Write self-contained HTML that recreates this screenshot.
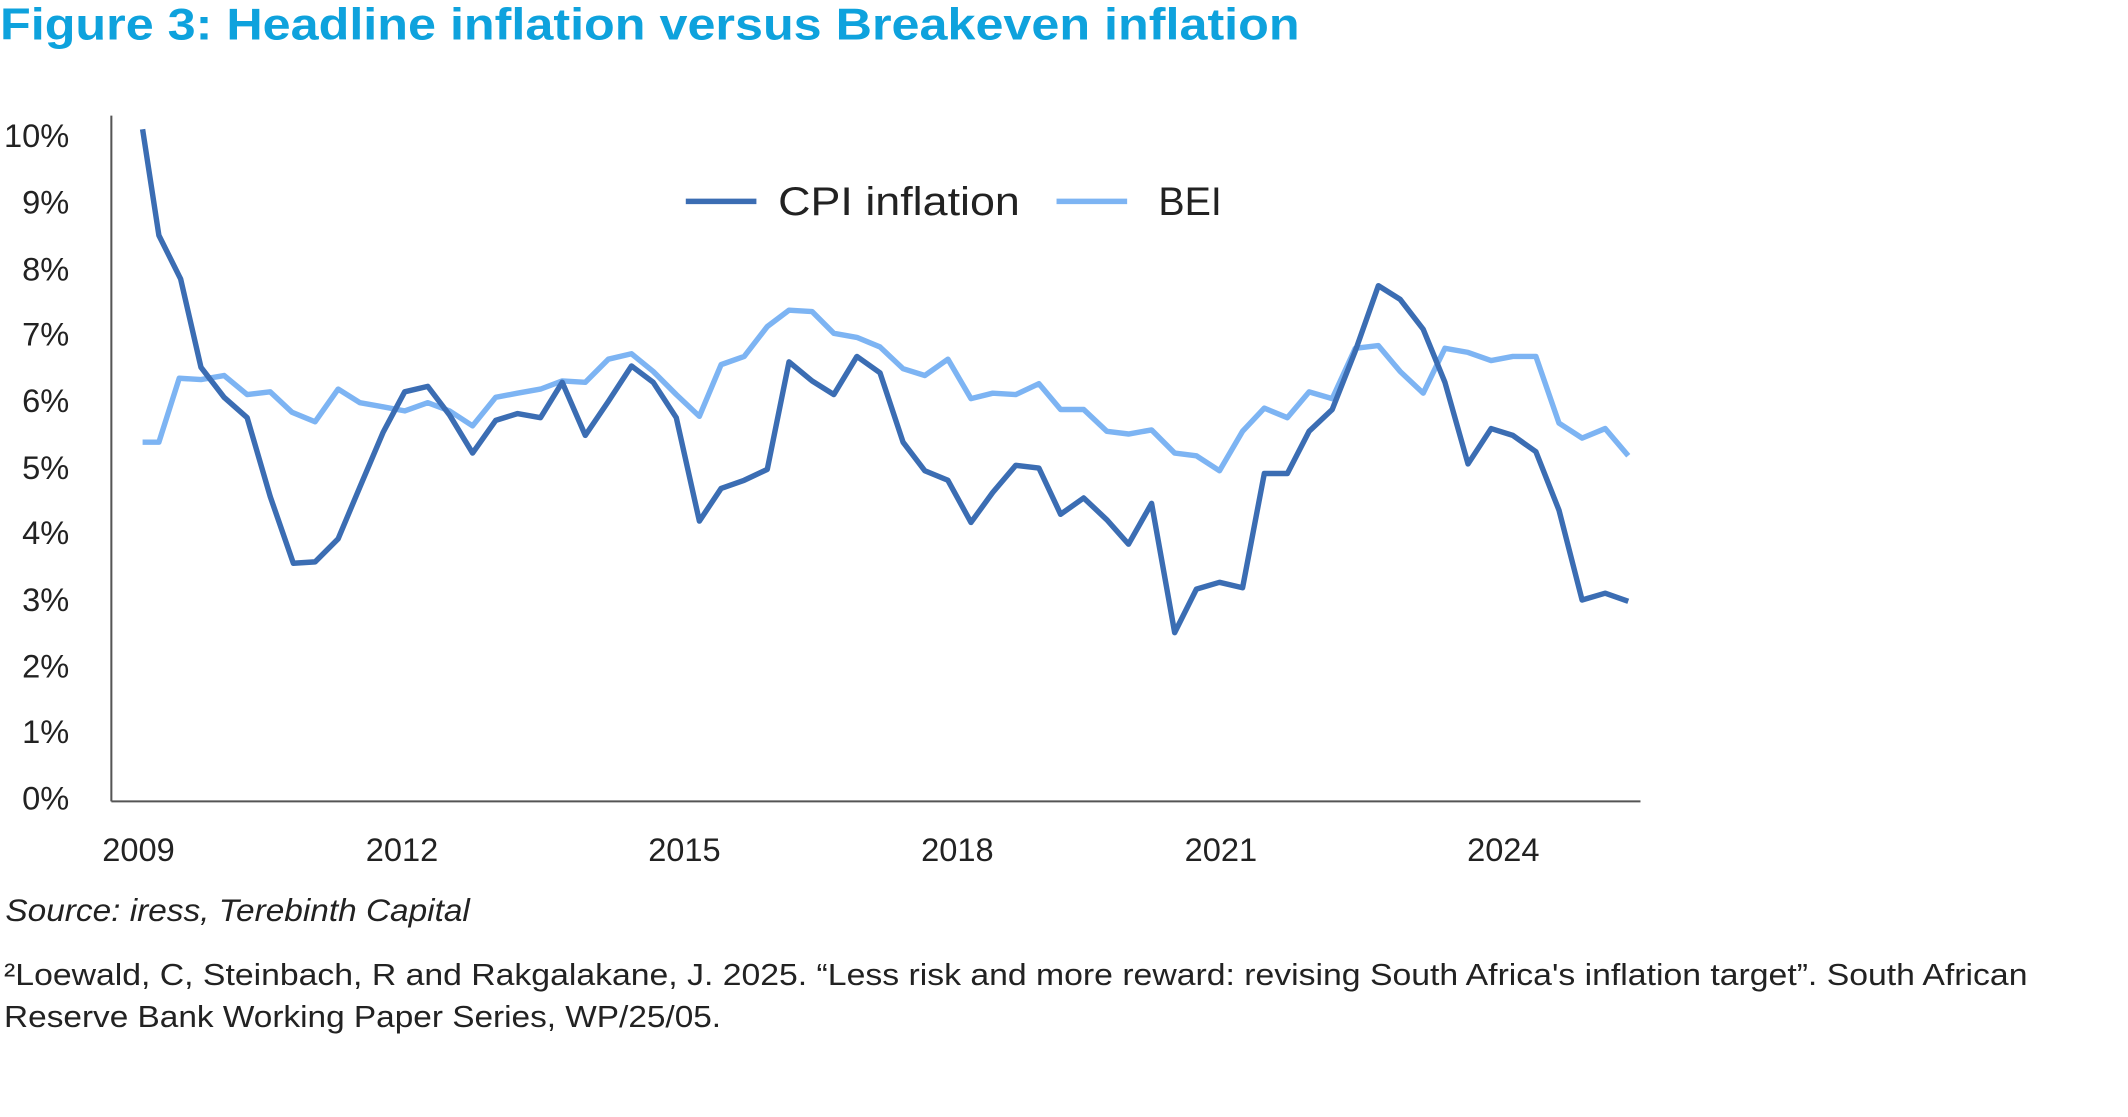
<!DOCTYPE html>
<html><head><meta charset="utf-8"><style>
html,body{margin:0;padding:0;background:#fff;}
svg{display:block;}
text{font-family:"Liberation Sans",sans-serif;}
</style></head><body>
<svg width="2128" height="1117" viewBox="0 0 1567 821" preserveAspectRatio="none" xmlns="http://www.w3.org/2000/svg">
<rect width="1567" height="821" fill="#fff"/>
<text x="0" y="29" font-size="33" font-weight="bold" fill="#0ea2dd" textLength="957" lengthAdjust="spacingAndGlyphs">Figure 3: Headline inflation versus Breakeven inflation</text>
<line x1="82" y1="85" x2="82" y2="589" stroke="#555" stroke-width="1.5"/>
<line x1="82" y1="589" x2="1208" y2="589" stroke="#555" stroke-width="1.5"/>
<g font-size="24" fill="#222" text-anchor="end">
<text x="51" y="108">10%</text><text x="51" y="157">9%</text><text x="51" y="206">8%</text><text x="51" y="254">7%</text><text x="51" y="303">6%</text><text x="51" y="352">5%</text><text x="51" y="400">4%</text><text x="51" y="449">3%</text><text x="51" y="498">2%</text><text x="51" y="546">1%</text><text x="51" y="595">0%</text>
</g>
<g font-size="24" fill="#222" text-anchor="middle">
<text x="102" y="633">2009</text><text x="296" y="633">2012</text><text x="504" y="633">2015</text><text x="705" y="633">2018</text><text x="899" y="633">2021</text><text x="1107" y="633">2024</text>
</g>
<line x1="505" y1="148" x2="557" y2="148" stroke="#3b6db3" stroke-width="4"/>
<text x="573" y="158" font-size="29" fill="#222" textLength="178" lengthAdjust="spacingAndGlyphs">CPI inflation</text>
<line x1="778" y1="148" x2="830" y2="148" stroke="#7db4f3" stroke-width="4"/>
<text x="853" y="158" font-size="29" fill="#222">BEI</text>
<polyline fill="none" stroke="#7db4f3" stroke-width="4" stroke-linejoin="round" points="105,325 117,325 132,278 148,279 165,276 182,290 199,288 215,303 232,310 249,286 265,296 282,299 298,302 315,296 331,302 348,313 365,292 381,289 398,286 414,280 431,281 448,264 465,260 481,273 498,290 515,306 531,268 548,262 565,240 581,228 598,229 614,245 631,248 648,255 665,271 681,276 698,264 715,293 731,289 748,290 765,282 781,301 798,301 815,317 831,319 848,316 865,333 881,335 898,346 915,317 931,300 948,307 964,288 981,293 998,256 1015,254 1031,273 1048,289 1064,256 1081,259 1098,265 1114,262 1131,262 1148,311 1165,322 1182,315 1199,335"/>
<polyline fill="none" stroke="#3b6db3" stroke-width="4" stroke-linejoin="round" points="105,95 117,173 133,205 148,270 165,292 182,307 199,365 216,414 232,413 249,396 265,358 282,318 298,288 315,284 331,305 348,333 365,309 381,304 398,307 414,281 431,320 448,295 465,269 481,281 498,307 515,383 531,359 548,353 565,345 581,266 598,280 614,290 631,262 648,274 665,325 681,346 698,353 715,384 731,362 748,342 765,344 781,378 798,366 815,382 831,400 848,370 865,465 881,433 898,428 915,432 931,348 948,348 964,317 981,301 998,258 1015,210 1031,220 1048,242 1064,281 1081,341 1098,315 1114,320 1131,332 1148,375 1165,441 1182,436 1199,442"/>
<text x="4" y="677" font-size="23" font-style="italic" fill="#222" textLength="342" lengthAdjust="spacingAndGlyphs">Source: iress, Terebinth Capital</text>
<text x="3" y="724" font-size="22.5" fill="#222" textLength="1490" lengthAdjust="spacingAndGlyphs">²Loewald, C, Steinbach, R and Rakgalakane, J. 2025. “Less risk and more reward: revising South Africa's inflation target”. South African</text>
<text x="3" y="755" font-size="22.5" fill="#222" textLength="528" lengthAdjust="spacingAndGlyphs">Reserve Bank Working Paper Series, WP/25/05.</text>
</svg>
</body></html>
